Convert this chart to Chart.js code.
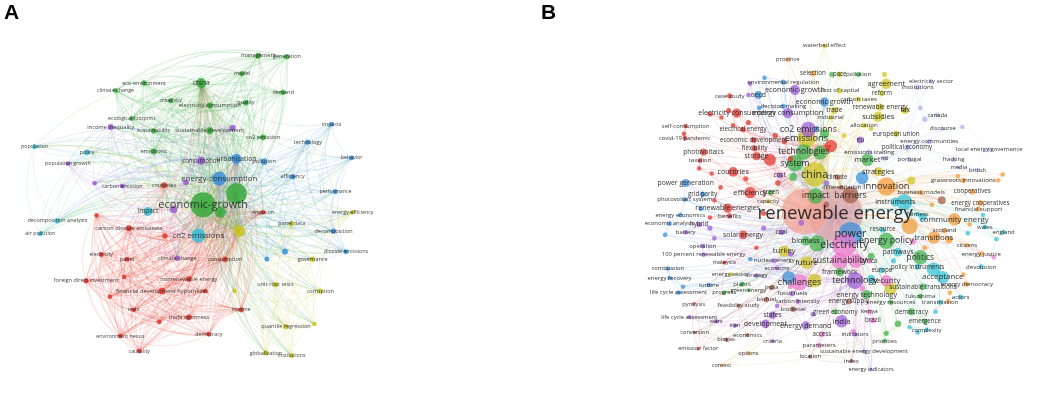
<!DOCTYPE html>
<html>
<head>
<meta charset="utf-8">
<script src="https://cdn.jsdelivr.net/npm/chart.js@4.4.1/dist/chart.umd.min.js"></script>
<style>
html, body { margin:0; padding:0; background:#fff; width:1059px; height:405px; overflow:hidden; }
#wrap { position:relative; width:1059px; height:405px; }
canvas { position:absolute; top:0; }
#cA { left:0; }
#cB { left:530px; }
.tag { position:absolute; top:0px; font:bold 21px "Liberation Sans", Arial, sans-serif; color:#000; }
</style>
</head>
<body>
<div id="wrap">
  <canvas id="cA" width="530" height="405"></canvas>
  <canvas id="cB" width="529" height="405"></canvas>
  <div class="tag" style="left:4px">A</div>
  <div class="tag" style="left:541px">B</div>
</div>
<script>
// keyword maps, one array per cluster: [label, map x, map y, occurrences]

// ---- A ----
var aGreen = [
  ["economic-growth", 200, 205, 160], ["", 235, 193, 110], ["", 218, 213, 30],
  ["china", 198, 75, 25], ["management", 258, 46, 9], ["generation", 288, 47, 7],
  ["model", 241, 65, 7], ["eco-environment", 138, 75, 7], ["climate change", 108, 83, 6],
  ["demand", 284, 85, 7], ["creativity", 166, 94, 6], ["electricity consumption", 207, 99, 9],
  ["quality", 245, 96, 7], ["ecological footprint", 125, 113, 6], ["sustainability", 148, 126, 7],
  ["sustainable development", 207, 126, 12], ["co2 emission", 263, 133, 8], ["emissions", 148, 148, 9]
];
var aBlue = [
  ["energy-consumption", 217, 177, 49], ["urbanization", 235, 156, 25], ["pollution", 264, 159, 10],
  ["impacts", 335, 119, 6], ["technology", 310, 138, 7], ["behavior", 356, 155, 6],
  ["efficiency", 294, 175, 8], ["performance", 339, 191, 6], ["decomposition", 337, 233, 7],
  ["", 286, 255, 9], ["dioxide emissions", 350, 255, 6], ["", 267, 263, 6]
];
var aCyan = [
  ["co2 emissions", 195, 238, 49], ["impact", 142, 212, 20], ["population", 23, 143, 6],
  ["policy", 78, 149, 8], ["decomposition analysis", 47, 222, 7], ["air pollution", 29, 236, 6]
];
var aPurple = [
  ["income inequality", 103, 122, 9], ["", 231, 123, 10], ["population growth", 58, 161, 6],
  ["consumption", 198, 158, 16], ["carbon emission", 115, 185, 6], ["", 182, 181, 8],
  ["", 86, 182, 5], ["", 169, 210, 14], ["climate change", 173, 262, 7]
];
var aRed = [
  ["countries", 159, 184, 9], ["", 88, 216, 5], ["carbon dioxide emissions", 122, 230, 9],
  ["", 160, 238, 7], ["emission", 263, 213, 6], ["electricity", 93, 258, 6],
  ["panel", 120, 263, 6], ["consumption", 223, 263, 8], ["foreign direct investment", 77, 286, 7],
  ["", 117, 282, 5], ["nonrenewable energy", 185, 284, 8], ["financial development hypotheses", 157, 297, 11],
  ["", 202, 297, 6], ["", 102, 303, 5], ["tests", 127, 317, 6], ["income", 240, 317, 7],
  ["trade openness", 185, 325, 8], ["", 154, 330, 6], ["environment nexus", 113, 345, 6],
  ["democracy", 206, 343, 6], ["causality", 133, 361, 6]
];
var aYellow = [
  ["", 238, 233, 36], ["energy efficiency", 357, 213, 6], ["panel data", 293, 225, 7],
  ["governance", 315, 263, 7], ["", 233, 297, 5], ["unit-root tests", 276, 290, 7],
  ["corruption", 323, 297, 7], ["quantile regression", 287, 335, 7], ["", 317, 332, 5],
  ["globalization", 266, 363, 7], ["institutions", 293, 366, 6]
];

// ---- B ----
var bRose = [["renewable energy", 840, 216, 576]];
var bSalmon = [["", 806, 213, 400]];
var bRed = [
  ["case study", 722, 79, 5], ["electricity consumption", 730, 99, 16],
  ["", 700, 100, 5], ["", 713, 104, 4], ["", 721, 96, 5], ["self-consumption", 673, 114, 4],
  ["electrical energy", 737, 118, 6], ["", 743, 110, 5], ["", 726, 113, 4], ["", 773, 125, 6],
  ["", 783, 132, 5], ["covid-19 pandemic", 672, 128, 4], ["", 671, 123, 4],
  ["economic development", 749, 130, 6], ["", 835, 137, 30], ["photovoltaics", 693, 144, 9],
  ["taxation", 689, 154, 4], ["flexibility", 750, 140, 6], ["storage", 752, 149, 12],
  ["", 767, 153, 28], ["", 688, 163, 4], ["countries", 726, 167, 18], ["", 702, 169, 4],
  ["efficiency", 745, 191, 25], ["renewable energies", 720, 209, 16], ["benefits", 722, 218, 5],
  ["solar energy", 737, 240, 14], ["", 740, 175, 5], ["", 712, 185, 4], ["", 705, 200, 4],
  ["", 760, 215, 5], ["", 700, 220, 4], ["", 752, 255, 4], ["", 776, 180, 6], ["", 790, 152, 5],
  ["malaysia", 716, 272, 3], ["pyrolysis", 682, 320, 2], ["emission factor", 687, 372, 2]
];
var bBlue = [
  ["oecd", 754, 78, 12], ["", 761, 58, 4], ["economic growth", 828, 86, 16],
  ["environmental regulation", 782, 63, 5], ["decision making", 782, 91, 5], ["", 755, 93, 4],
  ["", 819, 117, 5], ["power generation", 673, 180, 12], ["grid parity", 692, 193, 6],
  ["photovoltaic system", 672, 199, 4], ["energy economics", 667, 217, 4],
  ["economic analysis", 655, 227, 4], ["combustion", 653, 279, 4], ["energy recovery", 655, 290, 4],
  ["turbine", 699, 298, 4], ["life cycle assessment", 665, 307, 4], ["", 870, 174, 30],
  ["", 788, 289, 30], ["", 650, 240, 4], ["", 690, 210, 4], ["", 745, 268, 4], ["", 670, 300, 4],
  ["power", 857, 239, 110]
];
var bPurple = [
  ["economic-growth", 795, 72, 20], ["", 745, 65, 4], ["", 743, 78, 4],
  ["energy consumption", 787, 99, 20], ["co2 emissions", 810, 118, 45], ["cost", 778, 171, 6],
  ["hybrid", 688, 228, 6], ["battery", 673, 237, 4], ["operation", 692, 253, 4],
  ["100 percent renewable energy", 693, 263, 4], ["coal", 780, 237, 6], ["technology", 862, 293, 52],
  ["india", 847, 340, 30], ["states", 770, 333, 10], ["development", 762, 343, 14],
  ["energy demand", 807, 345, 14], ["fossil fuels", 792, 308, 5], ["carbon intensity", 798, 317, 4],
  ["wars", 707, 340, 4], ["iran", 728, 345, 4], ["", 700, 232, 5], ["", 705, 244, 4],
  ["", 760, 232, 5], ["", 790, 262, 5], ["", 775, 322, 4], ["", 815, 332, 4], ["", 802, 226, 6],
  ["", 830, 180, 6], ["eu", 868, 130, 9], ["nuclear energy", 772, 270, 4], ["economy", 775, 279, 3],
  ["strategy", 752, 287, 4], ["criteria", 770, 363, 3], ["life cycle assessment", 677, 335, 3],
  ["indicators", 862, 355, 4], ["sustainable energy development", 872, 375, 3],
  ["energy indicators", 880, 396, 2]
];
var bYellow = [
  ["waterbed effect", 828, 21, 4], ["pace", 845, 54, 6], ["", 895, 54, 5], ["agreement", 897, 65, 20],
  ["cost of capital", 845, 73, 5], ["reform", 892, 76, 6], ["carbon taxes", 866, 83, 5],
  ["renewable energy", 890, 92, 10], ["trade", 839, 96, 9], ["tax", 918, 96, 9],
  ["subsidies", 888, 103, 20], ["industrial", 835, 104, 4], ["allocation", 872, 113, 5],
  ["european union", 908, 123, 7], ["emissions", 808, 128, 64], ["china", 817, 170, 110],
  ["strategies", 888, 167, 16], ["", 925, 177, 12], ["future", 808, 272, 30], ["", 817, 293, 36],
  ["", 902, 302, 30], ["", 850, 125, 4], ["", 880, 117, 4], ["turkey", 783, 259, 25],
  ["energy sector", 723, 286, 4], ["capacity", 765, 201, 4]
];
var bGreen = [
  ["", 836, 54, 5], ["pollution", 866, 54, 5], ["", 828, 123, 16], ["technologies", 805, 144, 45],
  ["", 823, 145, 36], ["system", 795, 157, 52], ["", 793, 173, 12], ["green", 768, 191, 6],
  ["impact", 818, 195, 45], ["market", 876, 153, 30], ["", 820, 250, 49], ["biomass", 807, 247, 16],
  ["politics", 935, 266, 40], ["sustainable transitions", 938, 300, 8], ["fukushima", 935, 311, 5],
  ["energy resources", 902, 318, 5], ["democracy", 925, 329, 9], ["emergence", 940, 340, 6],
  ["", 910, 343, 8], ["", 897, 354, 5], ["green economy", 840, 329, 6], ["framework", 845, 283, 14],
  ["energy technology", 875, 309, 16], ["", 880, 265, 9], ["priorities", 895, 363, 4],
  ["energy policy", 897, 247, 50], ["plants", 736, 297, 5], ["green energy", 743, 304, 3],
  ["progress", 716, 307, 4]
];
var bCyan = [
  ["instruments", 907, 202, 16], ["", 917, 202, 49], ["", 938, 219, 12], ["fairness", 932, 216, 4],
  ["resource", 893, 234, 6], ["pathways", 910, 260, 14], ["policy instruments", 932, 277, 6],
  ["", 950, 280, 36], ["acceptance", 960, 289, 30], ["europe", 892, 281, 6], ["", 880, 291, 12],
  ["transmission", 957, 318, 5], ["complexity", 942, 350, 4], ["", 952, 329, 4], ["", 923, 347, 4],
  ["", 932, 353, 4], ["actors", 980, 312, 5], ["devolution", 1003, 277, 5], ["wales", 1007, 231, 4],
  ["england", 1028, 237, 4], ["", 988, 238, 4], ["", 1020, 245, 4], ["", 1005, 217, 4], ["", 905, 270, 5]
];
var bOrange = [
  ["province", 787, 37, 4], ["selection", 815, 53, 6], ["innovation", 897, 184, 64], ["", 923, 230, 49],
  ["business models", 936, 191, 5], ["grassroots innovations", 983, 177, 5], ["", 977, 172, 4],
  ["", 1027, 170, 4], ["", 1022, 177, 4], ["cooperatives", 993, 190, 6], ["energy cooperatives", 1002, 203, 6],
  ["financial support", 1000, 210, 5], ["community energy", 973, 222, 30], ["transitions", 950, 243, 30],
  ["scotland", 962, 235, 5], ["", 967, 246, 9], ["citizens", 987, 252, 4], ["energy justice", 1003, 262, 5],
  ["energy democracy", 987, 297, 5], ["", 983, 286, 4], ["", 968, 307, 4], ["", 966, 317, 4],
  ["", 948, 205, 4], ["", 990, 228, 4], ["", 940, 255, 5], ["options", 743, 377, 3], ["context", 713, 391, 2]
];
var bBrown = [
  ["barriers", 857, 194, 52], ["", 959, 200, 12], ["climate", 842, 173, 6], ["differentiation", 847, 185, 4],
  ["energy supply", 855, 317, 6], ["biofuel", 763, 315, 5], ["biodiesel", 793, 326, 5], ["", 830, 205, 6],
  ["india", 769, 301, 5], ["biogas", 718, 361, 3], ["economics", 742, 356, 3], ["conversion", 683, 353, 2],
  ["feasibility study", 732, 322, 3], ["location", 812, 381, 3], ["index", 858, 386, 3]
];
var bPink = [
  ["sustainability", 845, 270, 52], ["challenges", 800, 295, 52], ["", 863, 270, 40],
  ["electricity", 850, 252, 110], ["africa", 878, 270, 6], ["security", 897, 293, 25],
  ["kenya", 878, 329, 5], ["brazil", 882, 339, 6], ["", 927, 248, 6], ["", 1017, 266, 4],
  ["parameters", 822, 368, 5], ["access", 825, 355, 6], ["", 870, 302, 6], ["", 860, 352, 5], ["", 790, 300, 5]
];
var bLavender = [
  ["electricity sector", 947, 62, 3], ["institutions", 932, 69, 5], ["", 935, 93, 4], ["canada", 954, 101, 4],
  ["", 940, 106, 5], ["discourse", 960, 117, 3], ["", 982, 115, 4], ["energy communities", 945, 132, 5],
  ["political economy", 920, 139, 6], ["emissions trading", 878, 144, 5], ["local energy governance", 1012, 141, 4],
  ["portugal", 923, 153, 5], ["nsl", 895, 151, 5], ["fracking", 972, 153, 4], ["media", 978, 162, 3],
  ["british", 999, 165, 3]
];

var groupsA = [[aRed, "#e0392f"], [aGreen, "#38a93c"], [aBlue, "#3b8fd8"], [aYellow, "#c9c41f"], [aPurple, "#9a5cd4"], [aCyan, "#38c0d8"]];
var groupsB = [[bRose, "#dca4ac"], [bSalmon, "#f2a293"], [bRed, "#e0342f"], [bGreen, "#3fb34a"], [bBlue, "#3a8dd8"], [bYellow, "#cfc521"],
  [bPurple, "#9b5cd6"], [bCyan, "#35c2d6"], [bOrange, "#f39a38"], [bBrown, "#a35a44"], [bPink, "#ec78cc"], [bLavender, "#a9b4e8"]];

function rgba(hex, a) {
  var n = parseInt(hex.slice(1), 16);
  return "rgba(" + (n >> 16) + "," + ((n >> 8) & 255) + "," + (n & 255) + "," + a + ")";
}

function buildNodes(groups) {
  var out = [];
  groups.forEach(function (g, ci) {
    g[0].forEach(function (row) {
      out.push({ label: row[0], x: row[1], y: row[2], occ: row[3], col: g[1], ci: ci });
    });
  });
  return out;
}

// A: every keyword to the main hubs, plus all pairs inside a cluster
function linksA(nodes) {
  var links = [];
  for (var i = 0; i < nodes.length; i++) {
    for (var j = i + 1; j < nodes.length; j++) {
      if (nodes[i].ci === nodes[j].ci || nodes[j].occ >= 25 || nodes[i].occ >= 25) links.push([i, j]);
    }
  }
  return links;
}

// B: every keyword to the central term, to its cluster's biggest term, and to its two nearest cluster mates
function linksB(nodes) {
  var links = [], hub = 0, big = {};
  nodes.forEach(function (n, i) {
    if (big[n.ci] === undefined || n.occ > nodes[big[n.ci]].occ) big[n.ci] = i;
  });
  nodes.forEach(function (n, i) {
    if (i !== hub) links.push([i, hub]);
    if (big[n.ci] !== i) links.push([i, big[n.ci]]);
    var near = nodes.map(function (m, k) { return [k, (m.x - n.x) * (m.x - n.x) + (m.y - n.y) * (m.y - n.y)]; })
      .filter(function (p) { return p[0] !== i && nodes[p[0]].ci === n.ci; })
      .sort(function (p, q) { return p[1] - q[1]; }).slice(0, 2);
    near.forEach(function (p) { links.push([i, p[0]]); });
  });
  return links;
}

var edgePlugin = {
  id: "edges",
  beforeDatasetsDraw: function (chart, args, o) {
    var ctx = chart.ctx, sx = chart.scales.x, sy = chart.scales.y;
    ctx.save();
    ctx.lineWidth = o.width;
    o.links.forEach(function (l) {
      var a = o.nodes[l[0]], b = o.nodes[l[1]];
      var x1 = sx.getPixelForValue(a.x), y1 = sy.getPixelForValue(a.y);
      var x2 = sx.getPixelForValue(b.x), y2 = sy.getPixelForValue(b.y);
      var cx = (x1 + x2) / 2 - (y2 - y1) * o.bend, cy = (y1 + y2) / 2 + (x2 - x1) * o.bend;
      ctx.strokeStyle = rgba(a.col, o.alpha);
      ctx.beginPath();
      ctx.moveTo(x1, y1);
      ctx.quadraticCurveTo(cx, cy, x2, y2);
      ctx.stroke();
    });
    ctx.restore();
  }
};

var labelPlugin = {
  id: "nodeLabels",
  afterDatasetsDraw: function (chart, args, o) {
    var ctx = chart.ctx, sx = chart.scales.x, sy = chart.scales.y;
    ctx.save();
    ctx.textAlign = "center";
    ctx.textBaseline = "middle";
    ctx.fillStyle = o.color;
    o.nodes.slice().sort(function (p, q) { return p.occ - q.occ; }).forEach(function (n) {
      if (!n.label) return;
      var fs = o.fs0 + o.fs1 * Math.sqrt(n.occ) * o.k;
      ctx.font = fs.toFixed(1) + 'px "Open Sans", "Noto Sans", sans-serif';
      ctx.fillText(n.label, sx.getPixelForValue(n.x), sy.getPixelForValue(n.y));
    });
    ctx.restore();
  }
};

function drawMap(id, groups, links, xmin, xmax, k, nodeAlpha, edge, font) {
  var nodes = buildNodes(groups);
  var order = nodes.slice().sort(function (p, q) { return q.occ - p.occ; });
  new Chart(id, {
    type: "bubble",
    data: {
      datasets: [{
        data: order.map(function (n) { return { x: n.x, y: n.y, r: Math.sqrt(n.occ) * k }; }),
        backgroundColor: order.map(function (n) { return rgba(n.col, nodeAlpha); }),
        borderWidth: 0,
        clip: false
      }]
    },
    options: {
      responsive: false,
      animation: false,
      events: [],
      layout: { padding: 0 },
      scales: {
        x: { type: "linear", display: false, min: xmin, max: xmax },
        y: { type: "linear", display: false, min: 0, max: 405, reverse: true }
      },
      plugins: {
        legend: { display: false },
        tooltip: { enabled: false },
        edges: { nodes: nodes, links: links(nodes), alpha: edge[0], width: edge[1], bend: edge[2] },
        nodeLabels: { nodes: nodes, k: k, fs0: font[0], fs1: font[1], color: font[2] }
      }
    },
    plugins: [edgePlugin, labelPlugin]
  });
}

drawMap("cA", groupsA, linksA, 0, 530, 1, 0.85, [0.17, 0.8, 0.24], [4, 0.55, "rgba(35,35,35,0.85)"]);
drawMap("cB", groupsB, linksB, 530, 1059, 1.15, 0.72, [0.2, 0.7, 0.15], [4.8, 0.5, "rgba(25,25,25,0.9)"]);
</script>
</body>
</html>
